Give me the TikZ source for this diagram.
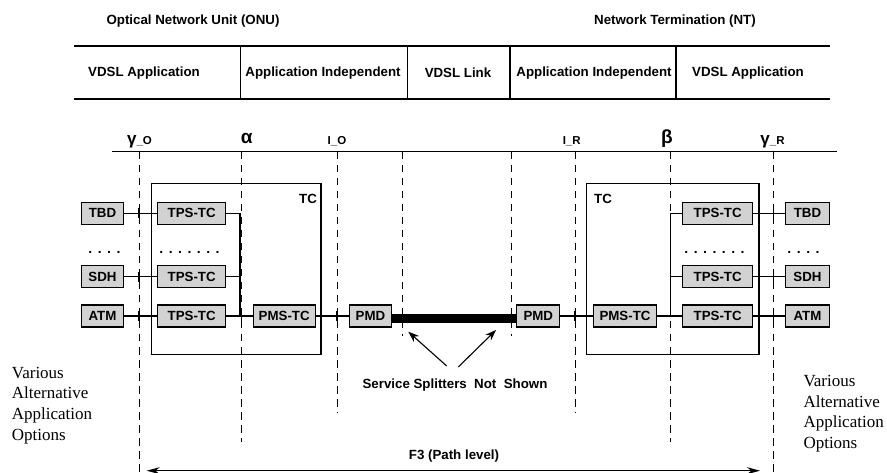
\documentclass[tikz,border=0pt]{standalone}
\usepackage{fontspec}
\setmainfont{Liberation Sans}
\newfontfamily\serifx{Liberation Serif}
\usetikzlibrary{arrows.meta}
\definecolor{boxgray}{RGB}{210,210,210}
\begin{document}
\begin{tikzpicture}[x=1pt,y=-1pt,
  lbl/.style={font=\fontsize{13.3}{15}\selectfont\bfseries, inner sep=0},
  gbox/.style={draw, line width=1.2pt, fill=boxgray, font=\fontsize{13.3}{15}\selectfont\bfseries, inner sep=0, minimum height=22pt},
  dline/.style={line width=1pt, dash pattern=on 7.5pt off 5.5pt},
  conn/.style={line width=1.2pt},
  tabline/.style={line width=1.3pt},
  tcbox/.style={draw, line width=1.2pt, inner sep=0},
  arr/.style={line width=1.1pt, -{Stealth[length=11pt,width=8pt]}},
  dots/.style={font=\fontsize{14}{15}\selectfont\bfseries, inner sep=0},
  various/.style={font=\serifx\fontsize{17}{20.7}\selectfont, align=left, inner sep=0, anchor=north west}
]
\useasboundingbox (0,0) rectangle (887,473);

% headings
\node[lbl] (onu) at (193,21) {Optical Network Unit (ONU)};
\node[lbl] (nt) at (675,21) {Network Termination (NT)};

% table
\coordinate (t1) at (74,46); \coordinate (t2) at (830,46);
\coordinate (b1) at (74,99); \coordinate (b2) at (830,99);
\draw[tabline] (t1) -- (t2);
\draw[tabline] (b1) -- (b2);
\foreach \xx in {240.7,407.3,510,676} { \draw[tabline] (\xx,46) -- (\xx,99); }
\node[lbl] (c1) at (144,73) {VDSL Application};
\node[lbl] (c2) at (323,73) {Application Independent};
\node[lbl] (c3) at (458,73) {VDSL Link};
\node[lbl] (c4) at (594,73) {Application Independent};
\node[lbl] (c5) at (748,73) {VDSL Application};

% reference line
\coordinate (r1) at (112,151.7); \coordinate (r2) at (837,151.7);
\draw[conn] (r1) -- (r2);

% reference point labels
\node[inner sep=0, anchor=base] (gO) at (139.5,145) {\fontsize{17}{17}\selectfont\bfseries γ\fontsize{11.5}{11.5}\selectfont\_O};
\node[inner sep=0, anchor=base] (al) at (246.7,144) {\fontsize{19}{19}\selectfont\bfseries α};
\node[inner sep=0, anchor=base] (IO) at (337,145) {\fontsize{11.5}{11.5}\selectfont\bfseries I\_O};
\node[inner sep=0, anchor=base] (IR) at (571.7,145) {\fontsize{11.5}{11.5}\selectfont\bfseries I\_R};
\node[inner sep=0, anchor=base] (be) at (667,144) {\fontsize{19}{19}\selectfont\bfseries β};
\node[inner sep=0, anchor=base] (gR) at (772.5,145) {\fontsize{17}{17}\selectfont\bfseries γ\fontsize{11.5}{11.5}\selectfont\_R};

% dashed vertical lines
\draw[dline] (139,152) -- (139,473);
\draw[dline] (241.7,152) -- (241.7,442);
\draw[dline] (337,152) -- (337,413);
\draw[dline] (402,152) -- (402,336);
\draw[dline] (511,152) -- (511,336);
\draw[dline] (575,152) -- (575,413);
\draw[dline] (670.7,152) -- (670.7,442);
\draw[dline] (773.3,152) -- (773.3,473);

% TC boxes
\node[tcbox, minimum width=169.3pt, minimum height=171pt] (tcl) at (236.35,268.8) {};
\node[tcbox, minimum width=172.3pt, minimum height=171pt] (tcr) at (672.85,268.8) {};
\node[lbl] (tcll) at (308,199) {TC};
\node[lbl] (tcrl) at (603,199) {TC};

% coordinates for vertical buses
\coordinate (vl1) at (240,213.3);
\coordinate (vl2) at (240,276.7);
\coordinate (vl3) at (240,316);
\coordinate (vr1) at (670.7,213.3);
\coordinate (vr2) at (670.7,276.7);
\coordinate (vr3) at (670.7,316);

% boxes left
\node[gbox, minimum width=42pt] (TBDl) at (102.5,213.3) {TBD};
\node[gbox, minimum width=42pt] (SDHl) at (102.5,276.7) {SDH};
\node[gbox, minimum width=42pt] (ATMl) at (102.5,316) {ATM};
\node[gbox, minimum width=68pt] (TPSl1) at (191.7,213.3) {TPS-TC};
\node[gbox, minimum width=68pt] (TPSl2) at (191.7,276.7) {TPS-TC};
\node[gbox, minimum width=68pt] (TPSl3) at (191.7,316) {TPS-TC};
\node[gbox, minimum width=62pt] (PMSl) at (284.2,316) {PMS-TC};
\node[gbox, minimum width=42pt] (PMDl) at (370.5,316) {PMD};
% boxes right
\node[gbox, minimum width=43pt] (PMDr) at (538.3,316) {PMD};
\node[gbox, minimum width=63pt] (PMSr) at (625,316) {PMS-TC};
\node[gbox, minimum width=70pt] (TPSr1) at (717.7,213.3) {TPS-TC};
\node[gbox, minimum width=70pt] (TPSr2) at (717.7,276.7) {TPS-TC};
\node[gbox, minimum width=70pt] (TPSr3) at (717.7,316) {TPS-TC};
\node[gbox, minimum width=44pt] (TBDr) at (807.5,213.3) {TBD};
\node[gbox, minimum width=44pt] (SDHr) at (807.5,276.7) {SDH};
\node[gbox, minimum width=44pt] (ATMr) at (807.5,316) {ATM};

% connectors left
\draw[conn] (TBDl) -- (TPSl1);
\draw[conn] (SDHl) -- (TPSl2);
\draw[conn] (ATMl) -- (TPSl3);
\draw[conn] (TPSl1.east) -- (vl1) -- (vl3);
\draw[conn] (TPSl2.east) -- (vl2);
\draw[conn] (TPSl3) -- (PMSl);
\draw[conn] (PMSl) -- (PMDl);
% connectors right
\draw[conn] (PMDr) -- (PMSr);
\draw[conn] (PMSr) -- (TPSr3);
\draw[conn] (vr1) -- (vr3);
\draw[conn] (vr1) -- (TPSr1.west);
\draw[conn] (vr2) -- (TPSr2.west);
\draw[conn] (TPSr1) -- (TBDr);
\draw[conn] (TPSr2) -- (SDHr);
\draw[conn] (TPSr3) -- (ATMr);
% line (thick bar)
\draw[line width=8.7pt] ([yshift=-2.3pt]PMDl.east) -- ([yshift=-2.3pt]PMDr.west);

% ticks at crossings
\foreach \xx/\yy in {139/213.3,139/276.7,139/316,241.7/316,337/316,575/316,773.3/213.3,773.3/276.7,773.3/316} {
  \draw[conn] (\xx,\yy-5) -- (\xx,\yy+5);
}

% dots
\node[dots] (dl1) at (104.5,252) {.\hspace{5.5pt}.\hspace{5.5pt}.\hspace{5.5pt}.};
\node[dots] (dl2) at (189.5,252) {.\hspace{5.5pt}.\hspace{5.5pt}.\hspace{5.5pt}.\hspace{5.5pt}.\hspace{5.5pt}.\hspace{5.5pt}.};
\node[dots] (dr2) at (714.5,252) {.\hspace{5.5pt}.\hspace{5.5pt}.\hspace{5.5pt}.\hspace{5.5pt}.\hspace{5.5pt}.\hspace{5.5pt}.};
\node[dots] (dr1) at (803.5,252) {.\hspace{5.5pt}.\hspace{5.5pt}.\hspace{5.5pt}.};

% service splitters
\node[lbl] (split) at (455,385) {Service Splitters\ \ Not\ \ Shown};
\coordinate (sa1) at (446.7,366);
\coordinate (sa1t) at (408.3,331.7);
\coordinate (sa2) at (458.3,367);
\coordinate (sa2t) at (496,330);
\draw[arr] (sa1) -- (sa1t);
\draw[arr] (sa2) -- (sa2t);

% various
\node[various] (vl) at (11.7,366.7) {Various\\Alternative\\Application\\Options};
\node[various] (vr) at (803.3,375) {Various\\Alternative\\Application\\Options};

% F3
\node[lbl] (f3) at (454,456) {F3 (Path level)};
\coordinate (f3a) at (146.7,470.7);
\coordinate (f3b) at (760,470.7);
\draw[line width=1.3pt, {Stealth[length=13pt,width=7pt]}-{Stealth[length=13pt,width=7pt]}] (f3a) -- (f3b);
\end{tikzpicture}
\end{document}
